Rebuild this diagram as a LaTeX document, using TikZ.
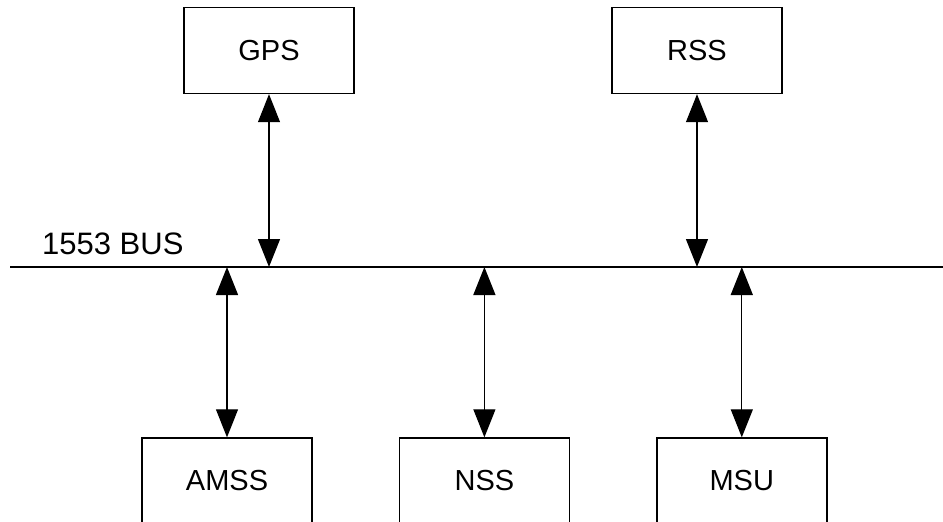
\documentclass[tikz,border=0pt]{standalone}
\usepackage{fontspec}
\setmainfont{Liberation Sans}
\usetikzlibrary{arrows.meta, positioning}

\begin{document}
\begin{tikzpicture}[
  x=1pt, y=-1pt,
  node distance=86pt,
  unit/.style={rectangle, draw, line width=1.4pt, minimum width=170pt, minimum height=86pt, inner sep=0pt, font=\fontsize{29}{34}\selectfont},
  link/.style={{Triangle[length=28pt,width=22pt]}-{Triangle[length=28pt,width=22pt]}, line width=1.3pt},
]
\clip (0,0) rectangle (943,522);
% units above the bus
\node[unit] (gps) at (269,50.5) {GPS};
\node[unit] (rss) at (697,50.5) {RSS};
% units below the bus
\node[unit] (amss) at (227,481) {AMSS};
\node[unit, right=of amss] (nss) {NSS};
\node[unit, right=of nss] (msu) {MSU};
% the bus
\coordinate (busL) at (10,267);
\coordinate (busR) at (943,267);
\draw[line width=1.6pt] (busL) -- (busR);
\node[anchor=base west, inner sep=0pt, font=\fontsize{31}{36}\selectfont] (buslabel) at (42,254) {1553 BUS};
\draw[link] (gps.south) -- (gps.south |- busL);
\draw[link] (rss.south) -- (rss.south |- busL);
\draw[link] (amss.north) -- (amss.north |- busL);
\draw[link] (nss.north) -- (nss.north |- busL);
\draw[link] (msu.north) -- (msu.north |- busL);
\end{tikzpicture}
\end{document}
